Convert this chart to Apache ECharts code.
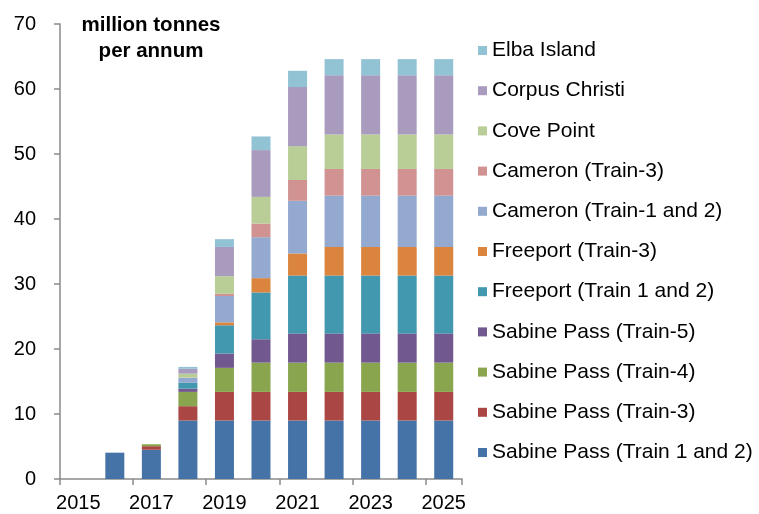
<!DOCTYPE html>
<html>
<head>
<meta charset="utf-8">
<script src="https://cdn.jsdelivr.net/npm/echarts@6/dist/echarts.min.js"></script>
<style>html,body{margin:0;padding:0;background:#fff}#c{width:759px;height:514px}</style>
</head>
<body>
<div id="c"></div>
<script>
const years = ['2015','2016','2017','2018','2019','2020','2021','2022','2023','2024','2025'];
const sabine12   = [0, 4.05, 4.5, 9.0, 9.0, 9.0, 9.0, 9.0, 9.0, 9.0, 9.0];
const sabine3    = [0, 0, 0.55, 2.2, 4.4, 4.4, 4.4, 4.4, 4.4, 4.4, 4.4];
const sabine4    = [0, 0, 0.3, 2.2, 3.7, 4.5, 4.5, 4.5, 4.5, 4.5, 4.5];
const sabine5    = [0, 0, 0, 0.5, 2.2, 3.6, 4.5, 4.5, 4.5, 4.5, 4.5];
const freeport12 = [0, 0, 0, 0.9, 4.35, 7.2, 8.9, 8.9, 8.9, 8.9, 8.9];
const freeport3  = [0, 0, 0, 0, 0.45, 2.2, 3.4, 4.4, 4.4, 4.4, 4.4];
const cameron12  = [0, 0, 0, 0.8, 4.05, 6.3, 8.1, 7.9, 7.9, 7.9, 7.9];
const cameron3   = [0, 0, 0, 0, 0.35, 2.1, 3.2, 4.1, 4.1, 4.1, 4.1];
const covePoint  = [0, 0, 0, 0.6, 2.7, 4.1, 5.2, 5.3, 5.3, 5.3, 5.3];
const corpus     = [0, 0, 0, 0.75, 4.5, 7.2, 9.1, 9.1, 9.1, 9.1, 9.1];
const elba       = [0, 0, 0, 0.3, 1.2, 2.1, 2.5, 2.5, 2.5, 2.5, 2.5];
const yTicks = [0, 10, 20, 30, 40, 50, 60, 70];

const seriesDefs = [
  ['Sabine Pass (Train 1 and 2)', sabine12, '#4572A7'],
  ['Sabine Pass (Train-3)', sabine3, '#AA4643'],
  ['Sabine Pass (Train-4)', sabine4, '#89A54E'],
  ['Sabine Pass (Train-5)', sabine5, '#71588F'],
  ['Freeport (Train 1 and 2)', freeport12, '#4198AF'],
  ['Freeport (Train-3)', freeport3, '#DB843D'],
  ['Cameron (Train-1 and 2)', cameron12, '#93A9CF'],
  ['Cameron (Train-3)', cameron3, '#D19392'],
  ['Cove Point', covePoint, '#B9CD96'],
  ['Corpus Christi', corpus, '#A99BBD'],
  ['Elba Island', elba, '#92C3D5']
];

const FONT = '"Liberation Sans", Arial, sans-serif';
const axisColor = '#8a8a8a';
const chart = echarts.init(document.getElementById('c'), null, {renderer: 'canvas'});
chart.setOption({
  animation: false,
  backgroundColor: '#ffffff',
  textStyle: {fontFamily: FONT},
  title: {
    text: 'million tonnes\nper annum',
    left: 151, top: 12, textAlign: 'center', padding: 0,
    textStyle: {fontFamily: FONT, fontSize: 20.5, fontWeight: 'bold', color: '#000', lineHeight: 26}
  },
  legend: {
    orient: 'vertical',
    left: 478, top: 40,
    itemWidth: 9, itemHeight: 9, itemGap: 19.2,
    icon: 'rect',
    padding: 0,
    data: seriesDefs.map(d => d[0]).reverse(),
    textStyle: {fontFamily: FONT, fontSize: 21, color: '#000', lineHeight: 20}
  },
  grid: {left: 60, right: 297, top: 24, bottom: 35, containLabel: false},
  xAxis: {
    type: 'category',
    data: years,
    axisLine: {lineStyle: {color: axisColor, width: 1.5}},
    axisTick: {show: true, interval: 1, alignWithLabel: false, length: 6, lineStyle: {color: axisColor, width: 1.5}},
    axisLabel: {interval: 1, margin: 14, fontFamily: FONT, fontSize: 20, color: '#000'}
  },
  yAxis: {
    type: 'value',
    min: yTicks[0], max: yTicks[yTicks.length - 1], interval: 10,
    splitLine: {show: false},
    axisLine: {show: true, lineStyle: {color: axisColor, width: 1.5}},
    axisTick: {show: true, length: 6, lineStyle: {color: axisColor, width: 1.5}},
    axisLabel: {margin: 24, fontFamily: FONT, fontSize: 20, color: '#000'}
  },
  series: seriesDefs.map(d => ({
    name: d[0],
    type: 'bar',
    stack: 'total',
    data: d[1],
    barWidth: 19,
    itemStyle: {color: d[2]}
  }))
});
</script>
</body>
</html>
